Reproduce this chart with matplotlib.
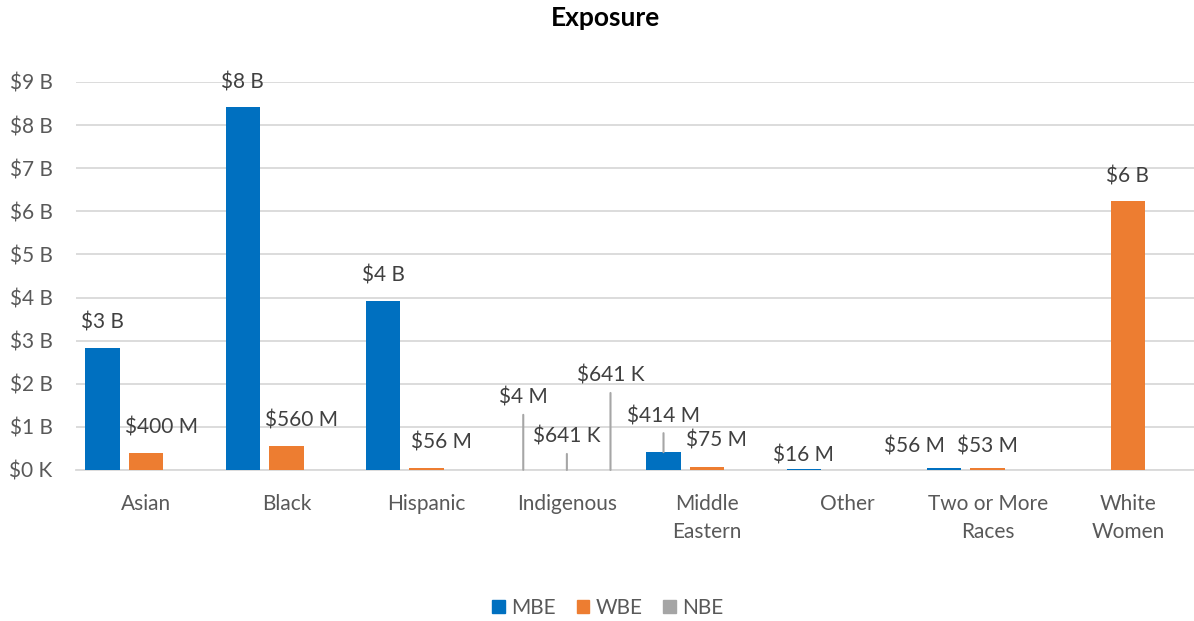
import numpy as np
import matplotlib.pyplot as plt
from matplotlib.patches import Patch

plt.rcParams['font.family'] = ['Lato', 'DejaVu Sans']

categories = ['Asian', 'Black', 'Hispanic', 'Indigenous', 'Middle\nEastern',
              'Other', 'Two or More\nRaces', 'White\nWomen']
series = ['MBE', 'WBE', 'NBE']
mbe = [2.83e9, 8.42e9, 3.93e9, 4e6, 414e6, 16e6, 56e6, 0]
wbe = [400e6, 560e6, 56e6, 641e3, 75e6, 0, 53e6, 6.23e9]
nbe = [0, 0, 0, 641e3, 0, 0, 0, 0]
y_ticks = [0, 1e9, 2e9, 3e9, 4e9, 5e9, 6e9, 7e9, 8e9, 9e9]

colors = {'MBE': '#0070C0', 'WBE': '#ED7D31', 'NBE': '#A5A5A5'}
text_col = '#595959'
grid_col = '#D9D9D9'

# label placement tweaks (pixels): (series, category index) -> (dx, dy, leader)
label_pos = {
    ('WBE', 0): (15, 25, False), ('WBE', 1): (15, 25, False), ('WBE', 2): (15, 25, False),
    ('MBE', 3): (0, 72, True), ('WBE', 3): (0, 33, True), ('NBE', 3): (0, 94, True),
    ('MBE', 4): (0, 36, True), ('WBE', 4): (9, 26, False),
    ('MBE', 5): (0, 14, False),
    ('MBE', 6): (-30, 21, False), ('WBE', 6): (0, 21, False),
}


def fmt(v):
    if v >= 1e9:
        return f'${v / 1e9:.0f} B'
    if v >= 1e6:
        return f'${v / 1e6:.0f} M'
    return f'${v / 1e3:.0f} K'


fig = plt.figure(figsize=(11.94, 6.21), dpi=100)
ax = fig.add_axes([76 / 1194, 151 / 621, 1122 / 1194, 388 / 621])

x = np.arange(len(categories))
step = 0.311
width = 0.245
data = {'MBE': mbe, 'WBE': wbe, 'NBE': nbe}

for k, name in enumerate(series):
    xs = x + (k - 1) * step
    vals = data[name]
    ax.bar(xs, vals, width, color=colors[name], zorder=3)
    for i, v in enumerate(vals):
        if v <= 0:
            continue
        dx, dy, leader = label_pos.get((name, i), (0, 25, False))
        ax.annotate(fmt(v), (xs[i], v), xytext=(dx, dy), textcoords='offset pixels',
                    ha='center', va='center', fontsize=15, color='#404040',
                    annotation_clip=False, zorder=5)
        if leader:
            ax.annotate('', (xs[i], v), xytext=(0, dy - 17), textcoords='offset pixels',
                        arrowprops=dict(arrowstyle='-', color='#A6A6A6', lw=1.5,
                                        shrinkA=0, shrinkB=0),
                        annotation_clip=False, zorder=4)

ax.set_xlim(-0.5, len(categories) - 0.5)
ax.set_ylim(0, 9e9)
ax.set_yticks(y_ticks)
ax.set_yticklabels([fmt(t) if t > 0 else '$0 K' for t in y_ticks])
ax.set_xticks(x)
ax.set_xticklabels(categories, linespacing=1.55)
ax.tick_params(axis='y', length=0, pad=17, labelsize=15, labelcolor=text_col)
ax.tick_params(axis='x', length=0, pad=17, labelsize=15, labelcolor=text_col)
ax.grid(axis='y', color=grid_col, lw=1.3, zorder=0)
for s in ['top', 'right', 'left']:
    ax.spines[s].set_visible(False)
ax.spines['bottom'].set_color(grid_col)
ax.spines['bottom'].set_linewidth(1.3)

fig.text(0.507, 1 - 18 / 621, 'Exposure', ha='center', va='center',
         fontsize=19, fontweight='bold', color='black')

handles = [Patch(color=colors[s], label=s) for s in series]
fig.legend(handles=handles, loc='center', bbox_to_anchor=(0.509, 1 - 608 / 621),
           ncol=3, frameon=False, fontsize=15, handlelength=0.6, handleheight=0.6,
           handletextpad=0.3, columnspacing=1.0, labelcolor=text_col)

fig.savefig('out.png', dpi=100)
